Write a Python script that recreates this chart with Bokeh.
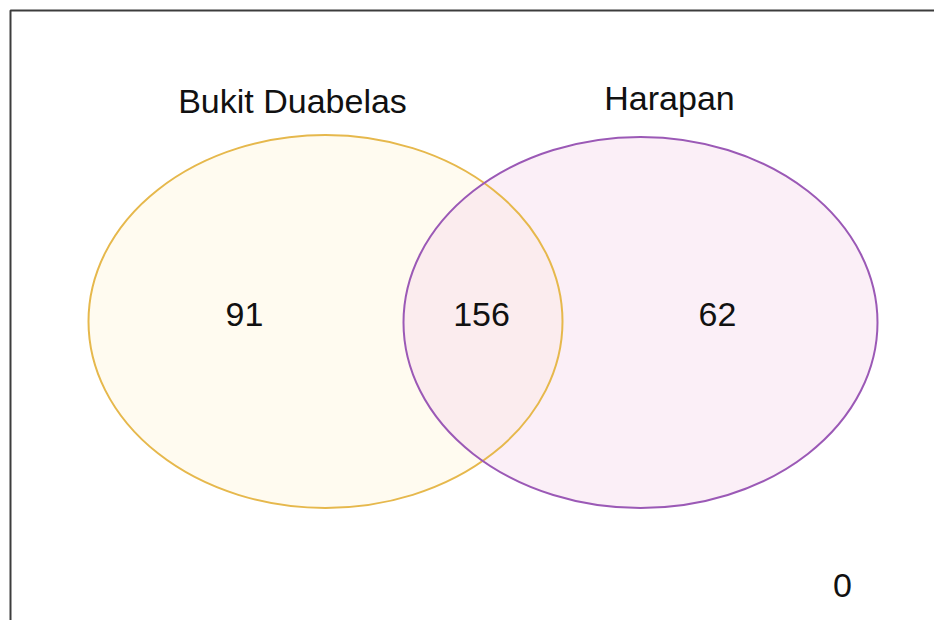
from bokeh.plotting import figure
from bokeh.models import Range1d, ColumnDataSource
from bokeh.core.properties import value
from bokeh.embed import file_html
from bokeh.resources import INLINE

# Data
set_names = ["Bukit Duabelas", "Harapan"]
region_labels = ["Bukit Duabelas only", "Both", "Harapan only", "Neither"]
region_counts = [91, 156, 62, 0]

W, H = 934, 620
p = figure(width=W, height=H, output_backend="svg", toolbar_location=None,
           x_range=Range1d(0, W), y_range=Range1d(H, 0),
           min_border=0, background_fill_color="white", border_fill_color="white")
p.axis.visible = False
p.grid.visible = False
p.outline_line_color = None

# outer box (partially cut off, as in the reference)
p.quad(left=[10], right=[980], top=[10], bottom=[680], fill_color=None,
       line_color="#3c3c3c", line_width=2)

# ellipse geometry
ell_x = [325, 640]
ell_y = [321, 322]
ell_w = [474, 474]
ell_h = [373, 371]
fills = ["#FFFBF0", "#F5D6EA"]
lines = ["#E6B84C", "#9B59B6"]

p.ellipse(x=[ell_x[0]], y=[ell_y[0]], width=[ell_w[0]], height=[ell_h[0]],
          fill_color=fills[0], fill_alpha=1.0, line_color=None)
p.ellipse(x=[ell_x[1]], y=[ell_y[1]], width=[ell_w[1]], height=[ell_h[1]],
          fill_color=fills[1], fill_alpha=0.4, line_color=None)
for i in range(2):
    p.ellipse(x=[ell_x[i]], y=[ell_y[i]], width=[ell_w[i]], height=[ell_h[i]],
              fill_color=None, line_color=lines[i], line_width=2)

# set names
p.text(x=[292, 669], y=[100, 97], text=set_names, text_align="center",
       text_baseline="middle", text_font=value("Liberation Sans"),
       text_font_size="34px", text_color="#111111")

# counts
src = ColumnDataSource(dict(x=[244, 481, 717, 842], y=[314, 314, 314, 585],
                            t=[str(c) for c in region_counts]))
p.text(x="x", y="y", text="t", source=src, text_align="center",
       text_baseline="middle", text_font=value("Liberation Sans"),
       text_font_size="34px", text_color="#111111")

open("out.html", "w").write(file_html(p, INLINE))
